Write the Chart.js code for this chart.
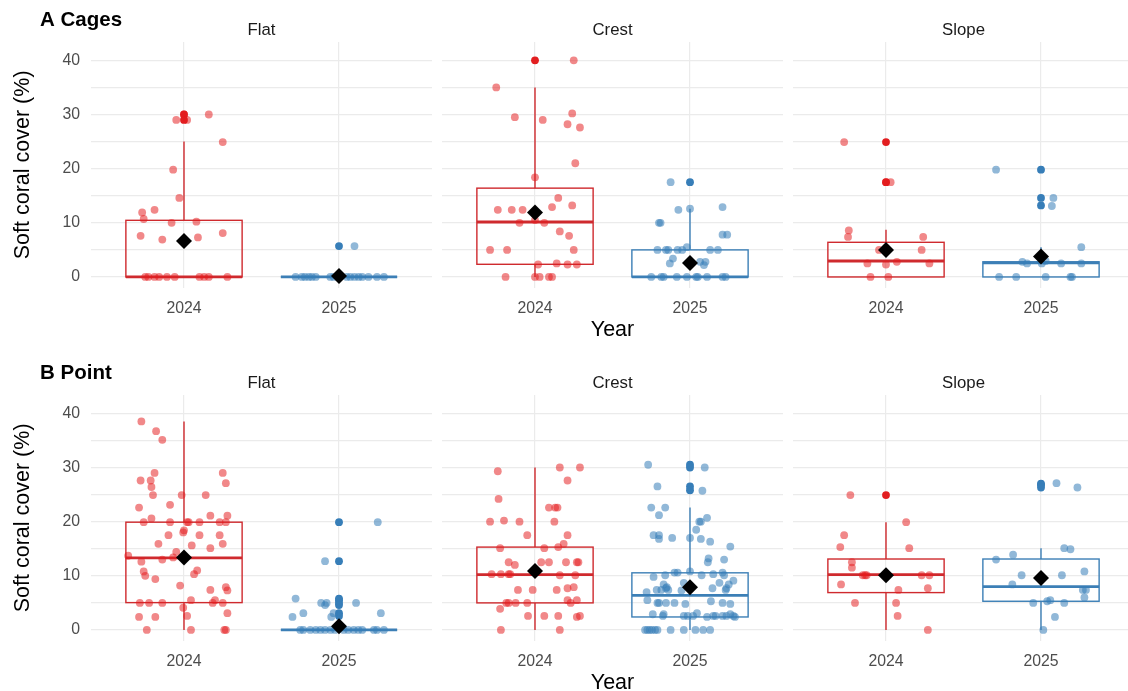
<!DOCTYPE html>
<html>
<head>
<meta charset="utf-8">
<title>Soft coral cover by zone and year</title>
<script src="https://cdn.jsdelivr.net/npm/chart.js@4.4.1/dist/chart.umd.min.js"></script>
<style>
  html, body { margin: 0; padding: 0; background: #ffffff; overflow: hidden; width: 1128px; height: 691px; }
  canvas { position: absolute; }
</style>
</head>
<body>
<script>
// ---------------------------------------------------------------------------
// Categories and axis labels
// ---------------------------------------------------------------------------
const YEARS = ['2024', '2025'];
const ZONES = ['Flat', 'Crest', 'Slope'];
const METHODS = ['A Cages', 'B Point'];
const Y_GRID = [0, 5, 10, 15, 20, 25, 30, 35, 40];
const Y_LABELLED = [0, 10, 20, 30, 40];

// ---------------------------------------------------------------------------
// A Cages: cover values per quadrat, with their horizontal jitter (in category units)
// ---------------------------------------------------------------------------
const cagesFlat2024 = [29.0, 30.0, 29.0, 30.0, 24.9, 19.8, 14.6, 11.9, 12.4, 10.7, 10.0, 10.2, 7.6, 6.9, 7.3, 8.1, 0, 0, 0, 0, 0, 0, 0, 0, 0, 0];
const cagesFlat2024Jitter = [-0.05, 0.0, 0.02, 0.16, 0.25, -0.07, -0.03, -0.27, -0.19, -0.26, -0.08, 0.08, -0.28, -0.14, 0.09, 0.25, -0.25, -0.23, -0.19, -0.16, -0.11, -0.06, 0.10, 0.13, 0.16, 0.28];
const cagesFlat2025 = [5.7, 0, 0, 0, 0, 0, 0, 0, 0, 0, 0, 0, 0, 0, 0, 0, 0];
const cagesFlat2025Jitter = [0.10, -0.28, -0.24, -0.22, -0.195, -0.175, -0.15, -0.056, -0.034, 0.05, 0.073, 0.10, 0.127, 0.15, 0.19, 0.245, 0.29];

const cagesCrest2024 = [40, 35, 29.5, 29.0, 30.2, 28.2, 27.6, 21.0, 18.4, 14.6, 12.4, 12.4, 12.4, 12.9, 13.2, 10.0, 10.5, 10.0, 8.4, 7.6, 5.0, 5.0, 5.0, 2.3, 2.5, 2.3, 2.3, 0, 0, 0, 0, 0];
const cagesCrest2024Jitter = [0.25, -0.25, -0.13, 0.05, 0.24, 0.21, 0.29, 0.26, 0.0, 0.15, -0.24, -0.15, -0.08, 0.11, 0.24, -0.10, 0.0, 0.06, 0.16, 0.22, -0.29, -0.18, 0.25, 0.02, 0.14, 0.21, 0.27, -0.19, 0.0, 0.03, 0.09, 0.11];
const cagesCrest2025 = [17.5, 12.4, 12.6, 12.9, 10.0, 10.0, 7.8, 7.8, 5.0, 5.0, 5.0, 5.0, 5.0, 5.5, 5.0, 5.0, 3.4, 2.5, 2.8, 2.8, 2.2, 0, 0, 0, 0, 0, 0, 0, 0, 0, 0];
const cagesCrest2025Jitter = [-0.125, -0.075, 0.0, 0.21, -0.20, -0.19, 0.21, 0.24, -0.21, -0.155, -0.14, -0.08, -0.05, -0.02, 0.13, 0.18, -0.11, -0.13, 0.065, 0.10, 0.09, -0.25, -0.185, -0.17, -0.085, -0.02, 0.04, 0.05, 0.11, 0.21, 0.23];

const cagesSlope2024 = [24.9, 17.5, 17.5, 8.6, 7.4, 7.4, 5.0, 5.0, 5.0, 2.5, 2.3, 2.8, 2.5, 0, 0];
const cagesSlope2024Jitter = [-0.27, 0.0, 0.03, -0.24, -0.245, 0.24, -0.045, 0.005, 0.23, -0.12, 0.0, 0.07, 0.28, -0.10, 0.015];
const cagesSlope2025 = [19.8, 14.6, 13.1, 5.5, 2.8, 2.5, 2.5, 2.95, 2.5, 2.5, 0, 0, 0, 0, 0];
const cagesSlope2025Jitter = [-0.29, 0.08, 0.07, 0.26, -0.12, -0.09, 0.005, 0.03, 0.13, 0.26, -0.27, -0.16, 0.03, 0.19, 0.20];

// Box summaries: [lower whisker, Q1, median, Q3, upper whisker] for 2024 and 2025
const cagesFlatBox = [[0, 0, 0, 10.46, 25.0], [0, 0, 0, 0, 0]];
const cagesCrestBox = [[0, 2.34, 10.15, 16.4, 35.0], [0, 0, 0, 5.0, 12.6]];
const cagesSlopeBox = [[0, 0, 2.95, 6.4, 8.7], [0, 0, 2.6, 2.8, 5.5]];
const cagesFlatMean = [6.65, 0.2];
const cagesCrestMean = [11.9, 2.6];
const cagesSlopeMean = [5.0, 3.8];
const cagesFlatOutliers = [[30, 29], [5.7]];
const cagesCrestOutliers = [[40], [17.5]];
const cagesSlopeOutliers = [[24.9, 17.5], [19.8, 14.6, 13.2]];

// ---------------------------------------------------------------------------
// B Point: cover values per transect point survey, with horizontal jitter
// ---------------------------------------------------------------------------
const pointFlat2024 = [38.5, 36.7, 35.1, 29.0, 27.6, 27.6, 26.4, 24.9, 24.9, 24.9, 29.0, 27.1, 22.6, 23.1, 19.9, 20.6, 19.9, 19.9, 19.9, 19.9, 21.1, 19.9, 19.9, 21.1, 18.4, 18.0, 17.5, 17.5, 17.5, 15.9, 15.6, 15.1, 15.9, 14.4, 13.7, 12.6, 13.0, 13.4, 10.8, 10.0, 11.0, 10.3, 9.4, 8.2, 7.4, 7.9, 7.3, 5.0, 5.0, 5.0, 5.5, 5.0, 5.5, 5.0, 4.1, 2.6, 2.4, 2.4, 3.1, 0, 0, 0, 0];
const pointFlat2024Jitter = [-0.275, -0.18, -0.14, -0.19, -0.28, -0.215, -0.21, -0.20, -0.015, 0.14, 0.25, 0.27, -0.29, -0.09, -0.26, -0.21, -0.09, 0.02, 0.03, 0.10, 0.17, 0.23, 0.27, 0.28, 0.0, -0.005, -0.10, 0.10, 0.23, -0.165, 0.05, 0.17, 0.25, -0.05, -0.36, -0.275, -0.14, -0.07, -0.26, -0.25, 0.085, 0.065, -0.185, -0.025, 0.17, 0.27, 0.28, -0.285, -0.225, -0.14, 0.045, 0.185, 0.20, 0.25, -0.005, 0.02, -0.29, -0.185, 0.28, -0.24, 0.045, 0.26, 0.27];
const pointFlat2025 = [19.9, 12.7, 5.8, 3.1, 2.4, 5.0, 4.6, 5.0, 2.4, 3.1, 5.0, 3.1, 0, 0, 0, 0, 0, 0, 0, 0, 0, 0, 0, 0, 0, 0, 0, 0];
const pointFlat2025Jitter = [0.25, -0.09, -0.28, -0.23, -0.30, -0.115, -0.09, -0.08, -0.05, -0.035, 0.11, 0.27, -0.25, -0.23, -0.185, -0.15, -0.12, -0.09, -0.055, -0.025, 0.03, 0.06, 0.095, 0.125, 0.15, 0.225, 0.245, 0.29];

const pointCrest2024 = [29.3, 30.0, 30.0, 27.6, 24.2, 22.6, 22.6, 22.6, 20.0, 20.2, 20.0, 20.0, 17.5, 17.5, 15.1, 15.1, 15.3, 15.9, 12.5, 12.0, 12.5, 12.5, 12.5, 12.5, 12.5, 10.3, 10.3, 10.3, 10.3, 10.1, 10.1, 7.4, 7.4, 7.4, 7.7, 7.9, 5.0, 5.0, 5.0, 5.0, 5.5, 5.5, 5.0, 3.9, 2.6, 2.6, 2.6, 2.4, 2.6, 0, 0];
const pointCrest2024Jitter = [-0.24, 0.16, 0.29, 0.21, -0.235, 0.09, 0.13, 0.145, -0.29, -0.20, -0.10, 0.125, -0.05, 0.21, -0.225, 0.06, 0.15, 0.185, -0.17, -0.13, 0.04, 0.09, 0.20, 0.27, 0.28, -0.28, -0.22, -0.17, -0.16, 0.16, 0.26, -0.11, -0.015, 0.14, 0.21, 0.25, -0.185, -0.17, -0.125, -0.05, 0.21, 0.27, 0.23, -0.225, -0.045, 0.06, 0.15, 0.27, 0.29, -0.22, 0.16];
const pointCrest2025 = [30.5, 30.0, 26.5, 25.7, 22.6, 22.6, 21.2, 20.0, 20.0, 20.7, 18.5, 17.5, 17.5, 16.8, 17.0, 17.0, 16.8, 16.3, 15.4, 13.2, 12.5, 13.0, 10.6, 10.6, 10.8, 9.8, 10.1, 10.1, 10.3, 10.6, 10.1, 8.7, 8.4, 7.9, 9.1, 8.4, 8.7, 7.4, 7.4, 7.7, 7.4, 7.7, 7.4, 7.7, 7.3, 7.0, 5.5, 5.0, 5.0, 5.0, 5.0, 5.3, 5.0, 4.8, 4.8, 2.9, 2.6, 2.9, 2.6, 2.6, 2.6, 3.1, 2.4, 2.6, 2.6, 2.6, 2.6, 2.9, 2.6, 2.4, 0, 0, 0, 0, 0, 0, 0, 0, 0, 0, 0];
const pointCrest2025Jitter = [-0.27, 0.095, -0.21, 0.08, -0.25, -0.16, -0.20, 0.06, 0.07, 0.11, 0.04, -0.235, -0.20, -0.20, -0.115, 0.0, 0.07, 0.13, 0.26, 0.12, 0.115, 0.22, -0.10, -0.08, 0.0, -0.235, -0.16, 0.075, 0.15, 0.21, 0.22, -0.04, -0.17, -0.15, 0.28, 0.25, 0.19, -0.215, -0.185, -0.155, -0.14, 0.145, 0.23, 0.235, -0.055, -0.28, -0.275, -0.21, -0.20, -0.155, -0.10, 0.135, 0.21, 0.26, -0.03, -0.24, -0.175, -0.17, -0.04, -0.015, 0.02, 0.045, 0.11, 0.15, 0.165, 0.21, 0.235, 0.26, 0.28, 0.29, -0.29, -0.275, -0.26, -0.245, -0.225, -0.21, -0.125, -0.04, 0.035, 0.085, 0.13];

const pointSlope2024 = [24.9, 19.9, 17.5, 15.3, 15.1, 12.5, 11.5, 10.1, 10.1, 10.1, 10.1, 10.1, 8.4, 7.4, 7.7, 5.0, 5.0, 2.6, 0];
const pointSlope2024Jitter = [-0.23, 0.13, -0.27, -0.295, 0.15, -0.22, -0.22, -0.15, -0.135, -0.125, 0.23, 0.28, -0.29, 0.08, 0.27, -0.20, 0.065, 0.075, 0.27];
const pointSlope2025 = [27.1, 26.3, 15.1, 14.9, 13.0, 13.9, 10.8, 10.1, 10.1, 8.4, 7.4, 7.4, 6.0, 5.0, 5.3, 5.5, 5.0, 2.4, 0];
const pointSlope2025Jitter = [0.10, 0.235, 0.15, 0.19, -0.29, -0.18, 0.28, -0.125, 0.135, -0.185, 0.27, 0.29, 0.28, -0.05, 0.04, 0.06, 0.15, 0.09, 0.015];

const pointFlatBox = [[0, 5.05, 13.3, 19.9, 38.5], [0, 0, 0, 0, 0]];
const pointCrestBox = [[0, 5.0, 10.2, 15.3, 30.0], [0, 2.4, 6.4, 10.55, 22.6]];
const pointSlopeBox = [[0, 6.9, 10.2, 13.1, 19.9], [0, 5.3, 8.0, 13.1, 15.1]];
const pointFlatMean = [13.4, 0.68];
const pointCrestMean = [10.9, 7.9];
const pointSlopeMean = [10.1, 9.6];
const pointFlatOutliers = [[], [19.9, 12.7, 5.8, 5.5, 5.0, 4.6, 3.1, 2.6]];
const pointCrestOutliers = [[], [30.5, 30.0, 26.5, 25.8]];
const pointSlopeOutliers = [[24.9], [27.0, 26.8, 26.3]];

// ---------------------------------------------------------------------------
// Styling
// ---------------------------------------------------------------------------
const FONT = '"Liberation Sans", Arial, Helvetica, sans-serif';
const POINT_FILL = ['rgba(228, 26, 28, 0.52)', 'rgba(55, 126, 184, 0.55)'];
const SOLID_FILL = ['rgb(226, 30, 32)', 'rgb(55, 126, 184)'];
const BOX_STROKE = ['#cf2a2e', '#3c7fb6'];
const GRID_COLOR = '#ebebeb';
const BOX_HALF_WIDTH = 0.375;

// Facet geometry (page pixels)
const ROWS = [
  { top: 0,   height: 350, plotTop: 41.9,  plotBottom: 287.8, xTitlePad: 7 },
  { top: 350, height: 341, plotTop: 394.9, plotBottom: 640.8, xTitlePad: -5 }
];
const COLS = [
  { left: 0,   width: 432, axisWidth: 91 },
  { left: 442, width: 341, axisWidth: 0 },
  { left: 793, width: 341, axisWidth: 0 }
];

const PANELS = [
  [
    { values: [cagesFlat2024, cagesFlat2025], jitter: [cagesFlat2024Jitter, cagesFlat2025Jitter], box: cagesFlatBox, mean: cagesFlatMean, outliers: cagesFlatOutliers },
    { values: [cagesCrest2024, cagesCrest2025], jitter: [cagesCrest2024Jitter, cagesCrest2025Jitter], box: cagesCrestBox, mean: cagesCrestMean, outliers: cagesCrestOutliers },
    { values: [cagesSlope2024, cagesSlope2025], jitter: [cagesSlope2024Jitter, cagesSlope2025Jitter], box: cagesSlopeBox, mean: cagesSlopeMean, outliers: cagesSlopeOutliers }
  ],
  [
    { values: [pointFlat2024, pointFlat2025], jitter: [pointFlat2024Jitter, pointFlat2025Jitter], box: pointFlatBox, mean: pointFlatMean, outliers: pointFlatOutliers },
    { values: [pointCrest2024, pointCrest2025], jitter: [pointCrest2024Jitter, pointCrest2025Jitter], box: pointCrestBox, mean: pointCrestMean, outliers: pointCrestOutliers },
    { values: [pointSlope2024, pointSlope2025], jitter: [pointSlope2024Jitter, pointSlope2025Jitter], box: pointSlopeBox, mean: pointSlopeMean, outliers: pointSlopeOutliers }
  ]
];

// Boxes, whiskers and medians, drawn under the points
function boxPlugin(panel) {
  return {
    id: 'boxes',
    beforeDatasetsDraw(chart) {
      const { ctx, scales: { x, y } } = chart;
      panel.box.forEach((s, i) => {
        const [lo, q1, med, q3, hi] = s;
        const xc = x.getPixelForValue(i + 1);
        const xl = x.getPixelForValue(i + 1 - BOX_HALF_WIDTH);
        const xr = x.getPixelForValue(i + 1 + BOX_HALF_WIDTH);
        ctx.save();
        ctx.strokeStyle = BOX_STROKE[i];
        ctx.lineWidth = 1.4;
        ctx.beginPath();
        ctx.moveTo(xc, y.getPixelForValue(q3));
        ctx.lineTo(xc, y.getPixelForValue(hi));
        ctx.moveTo(xc, y.getPixelForValue(q1));
        ctx.lineTo(xc, y.getPixelForValue(lo));
        ctx.stroke();
        ctx.strokeRect(xl, y.getPixelForValue(q3), xr - xl, y.getPixelForValue(q1) - y.getPixelForValue(q3));
        ctx.lineWidth = 2.8;
        ctx.beginPath();
        ctx.moveTo(xl, y.getPixelForValue(med));
        ctx.lineTo(xr, y.getPixelForValue(med));
        ctx.stroke();
        ctx.restore();
      });
    }
  };
}

// Strip labels above each facet, and the method tag on the left facet
function labelPlugin(zone, tag) {
  return {
    id: 'facetLabels',
    afterDraw(chart) {
      const { ctx, chartArea } = chart;
      ctx.save();
      ctx.fillStyle = '#1a1a1a';
      ctx.font = '16.8px ' + FONT;
      ctx.textAlign = 'center';
      ctx.textBaseline = 'alphabetic';
      ctx.fillText(zone, (chartArea.left + chartArea.right) / 2, chartArea.top - 7);
      if (tag) {
        ctx.fillStyle = '#000000';
        ctx.font = 'bold 20.5px ' + FONT;
        ctx.textAlign = 'left';
        ctx.fillText(tag, 40, chartArea.top - 16);
      }
      ctx.restore();
    }
  };
}

function buildFacet(r, c) {
  const row = ROWS[r], col = COLS[c], panel = PANELS[r][c];
  const canvas = document.createElement('canvas');
  canvas.width = col.width;
  canvas.height = row.height;
  canvas.style.left = col.left + 'px';
  canvas.style.top = row.top + 'px';
  document.body.appendChild(canvas);

  const datasets = [];
  panel.values.forEach((vals, i) => {
    datasets.push({
      label: YEARS[i],
      data: vals.map((v, k) => ({ x: i + 1 + panel.jitter[i][k], y: v })),
      backgroundColor: POINT_FILL[i],
      borderWidth: 0,
      pointRadius: 3.9,
      order: 1
    });
  });
  panel.outliers.forEach((vals, i) => {
    datasets.push({
      label: YEARS[i] + ' outliers',
      data: vals.map(v => ({ x: i + 1, y: v })),
      backgroundColor: SOLID_FILL[i],
      borderWidth: 0,
      pointRadius: 3.9,
      order: 2
    });
  });
  datasets.push({
    label: 'mean',
    data: panel.mean.map((m, i) => ({ x: i + 1, y: m })),
    pointStyle: 'rectRot',
    pointRadius: 8,
    backgroundColor: '#000000',
    borderWidth: 0,
    order: 0
  });

  const tickFont = { family: FONT, size: 15.8 };
  const titleFont = { family: FONT, size: 21.5, lineHeight: 1.2 };

  new Chart(canvas, {
    type: 'scatter',
    data: { datasets },
    options: {
      responsive: false,
      animation: false,
      events: [],
      layout: { autoPadding: false, padding: { top: row.plotTop - row.top, left: 0, right: 0, bottom: 0 } },
      plugins: { legend: { display: false }, tooltip: { enabled: false } },
      scales: {
        x: {
          type: 'linear',
          min: 0.4,
          max: 2.6,
          afterBuildTicks: s => { s.ticks = YEARS.map((_, i) => ({ value: i + 1 })); },
          afterFit: s => { s.height = row.height - (row.plotBottom - row.top); },
          ticks: {
            callback: v => YEARS[Math.round(v) - 1] || '',
            color: '#4d4d4d',
            font: tickFont,
            padding: 11,
            maxRotation: 0,
            autoSkip: false
          },
          grid: { color: GRID_COLOR, lineWidth: 1.2, drawTicks: false },
          border: { display: false },
          title: {
            display: c === 1,
            text: 'Year',
            color: '#000000',
            font: titleFont,
            padding: { top: 0, bottom: row.xTitlePad }
          }
        },
        y: {
          min: -2,
          max: 43.4,
          afterBuildTicks: s => { s.ticks = Y_GRID.map(v => ({ value: v })); },
          afterFit: s => { s.width = col.axisWidth; },
          ticks: {
            display: c === 0,
            callback: v => (Y_LABELLED.includes(v) ? String(v) : ''),
            color: '#4d4d4d',
            font: tickFont,
            padding: 11
          },
          grid: { color: GRID_COLOR, lineWidth: 1.2, drawTicks: false },
          border: { display: false },
          title: {
            display: c === 0,
            text: 'Soft coral cover (%)',
            color: '#000000',
            font: titleFont,
            padding: { top: 10, bottom: 0 }
          }
        }
      }
    },
    plugins: [boxPlugin(panel), labelPlugin(ZONES[c], c === 0 ? METHODS[r] : null)]
  });
}

for (let r = 0; r < ROWS.length; r++) {
  for (let c = 0; c < COLS.length; c++) {
    buildFacet(r, c);
  }
}
</script>
</body>
</html>
